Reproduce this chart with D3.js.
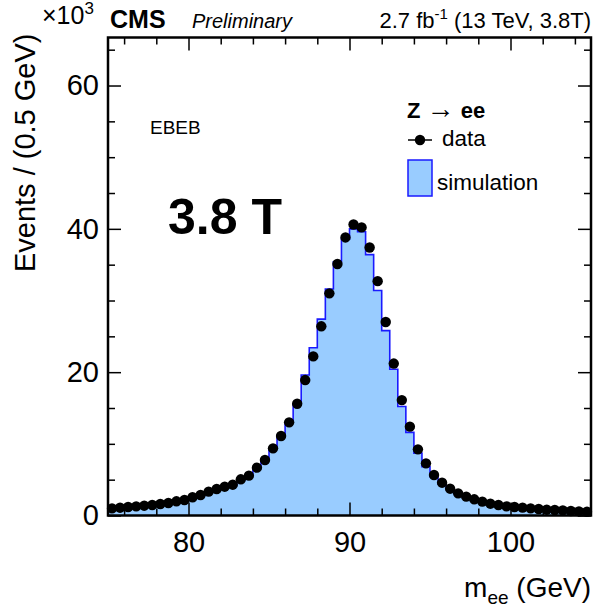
<!DOCTYPE html>
<html>
<head>
<meta charset="utf-8">
<script src="https://cdn.jsdelivr.net/npm/d3@7"></script>
<style>
  body { margin: 0; background: #fff; }
  text { font-family: "Liberation Sans", Arial, sans-serif; }
</style>
</head>
<body>
<div class="canvas"></div>
<script>
// margins and dimensions
const w = 594;
const h = 611;
const margin = { top: 37.5, right: 3, bottom: 95.5, left: 108 };

// bins: 0.5 GeV from 75 to 105
const binLow = d3.range(60).map((i) => 75 + i * 0.5);

// data points (x10^3 events)
const dataCounts = [
  1.00, 1.09, 1.19, 1.28, 1.37, 1.47, 1.60, 1.74, 1.98, 2.16,
  2.54, 2.86, 3.33, 3.70, 4.02, 4.30, 5.05, 5.56, 6.68, 7.75,
  9.37, 11.1, 13.0, 15.6, 18.9, 22.2, 26.4, 31.0, 35.1, 38.8,
  40.6, 40.2, 37.4, 32.7, 27.0, 21.2, 16.1, 12.4, 9.23, 7.28,
  5.65, 4.58, 3.74, 3.09, 2.63, 2.26, 1.93, 1.65, 1.47, 1.28,
  1.19, 1.10, 1.00, 0.90, 0.81, 0.77, 0.72, 0.63, 0.58, 0.53
];

// simulation histogram (x10^3 events)
const simCounts = [
  0.95, 1.04, 1.14, 1.23, 1.32, 1.42, 1.55, 1.70, 1.92, 2.10,
  2.48, 2.80, 3.27, 3.64, 3.98, 4.28, 5.00, 5.55, 6.65, 7.75,
  9.40, 11.2, 13.0, 15.5, 19.6, 23.4, 27.4, 31.6, 35.4, 38.6,
  40.0, 39.6, 36.4, 31.4, 25.8, 20.4, 15.2, 11.6, 8.70, 6.80,
  5.40, 4.40, 3.62, 3.00, 2.56, 2.20, 1.88, 1.60, 1.42, 1.24,
  1.14, 1.05, 0.96, 0.87, 0.78, 0.73, 0.68, 0.60, 0.55, 0.50
];

const xMajor = [80, 90, 100];
const xMinor = [76, 78, 82, 84, 86, 88, 92, 94, 96, 98, 102, 104];
const yMajor = [0, 20, 40, 60];
const yMinor = [5, 10, 15, 25, 30, 35, 45, 50, 55, 65];

const svg = d3.select(".canvas").append("svg").attr("width", w).attr("height", h);

const x = d3.scaleLinear().domain([75, 105]).range([margin.left, w - margin.right]);
const y = d3.scaleLinear().domain([0, 66.7]).range([h - margin.bottom, margin.top]);

// simulation (filled step histogram)
const simPts = binLow.map((b, i) => [b, simCounts[i]]);
simPts.push([105, simCounts[simCounts.length - 1]]);

svg.append("path")
  .datum(simPts)
  .attr("fill", "#99ccff")
  .attr("d", d3.area().curve(d3.curveStepAfter).x((d) => x(d[0])).y0(y(0)).y1((d) => y(d[1])));

svg.append("path")
  .datum(simPts)
  .attr("fill", "none")
  .attr("stroke", "#1a1aff")
  .attr("stroke-width", 1.6)
  .attr("d", d3.line().curve(d3.curveStepAfter).x((d) => x(d[0])).y((d) => y(d[1])));

// data points
const pts = svg.append("g");
dataCounts.forEach((v, i) => {
  pts.append("line")
    .attr("x1", x(binLow[i])).attr("x2", x(binLow[i] + 0.5))
    .attr("y1", y(v)).attr("y2", y(v))
    .attr("stroke", "#000").attr("stroke-width", 1.5);
  pts.append("circle")
    .attr("cx", x(binLow[i] + 0.25)).attr("cy", y(v))
    .attr("r", 5.2).attr("fill", "#000");
});

// axes: ticks on all four sides, pointing inward
function addAxis(axis, tx, ty, labels) {
  const g = svg.append("g").attr("transform", `translate(${tx},${ty})`).call(axis);
  g.select(".domain").remove();
  g.selectAll(".tick line").attr("stroke", "#000").attr("stroke-width", 1.5);
  g.selectAll("text").attr("font-size", 29).attr("fill", "#000");
  if (!labels) g.selectAll("text").remove();
  return g;
}
const x0 = y(0), yTop = y(66.7), xL = x(75), xR = x(105);
addAxis(d3.axisBottom(x).tickValues(xMajor).tickSizeInner(-13).tickSizeOuter(0).tickPadding(16).tickFormat(d3.format("d")), 0, x0, true);
addAxis(d3.axisBottom(x).tickValues(xMinor).tickSizeInner(-7).tickSizeOuter(0), 0, x0, false);
addAxis(d3.axisTop(x).tickValues(xMajor).tickSizeInner(-13).tickSizeOuter(0), 0, yTop, false);
addAxis(d3.axisTop(x).tickValues(xMinor).tickSizeInner(-7).tickSizeOuter(0), 0, yTop, false);
addAxis(d3.axisLeft(y).tickValues(yMajor).tickSizeInner(-13).tickSizeOuter(0).tickPadding(9).tickFormat(d3.format("d")), xL, 0, true);
addAxis(d3.axisLeft(y).tickValues(yMinor).tickSizeInner(-7).tickSizeOuter(0), xL, 0, false);
addAxis(d3.axisRight(y).tickValues(yMajor).tickSizeInner(-13).tickSizeOuter(0), xR, 0, false);
addAxis(d3.axisRight(y).tickValues(yMinor).tickSizeInner(-7).tickSizeOuter(0), xR, 0, false);

// frame
svg.append("rect")
  .attr("x", xL).attr("y", yTop).attr("width", xR - xL).attr("height", x0 - yTop)
  .attr("fill", "none").attr("stroke", "#000").attr("stroke-width", 2.5);

// axis titles
svg.append("text")
  .attr("transform", `translate(35,${yTop - 4}) rotate(-90)`)
  .attr("text-anchor", "end").attr("font-size", 29)
  .text("Events / (0.5 GeV)");

const xt = svg.append("text").attr("x", 591).attr("y", 597).attr("text-anchor", "end").attr("font-size", 28);
xt.append("tspan").text("m");
xt.append("tspan").attr("font-size", 19).attr("dy", 7).text("ee");
xt.append("tspan").attr("dy", -7).text(" (GeV)");

// exponent
const ex = svg.append("text").attr("x", 42).attr("y", 24).attr("font-size", 25);
ex.append("tspan").text("×10");
ex.append("tspan").attr("font-size", 17).attr("dy", -10).text("3");

// header
svg.append("text").attr("x", 110).attr("y", 28).attr("font-size", 25).attr("font-weight", "bold").text("CMS");
svg.append("text").attr("x", 192).attr("y", 28).attr("font-size", 20).attr("font-style", "italic").text("Preliminary");
const lumi = svg.append("text").attr("x", 591).attr("y", 28).attr("text-anchor", "end").attr("font-size", 22);
lumi.append("tspan").text("2.7 fb");
lumi.append("tspan").attr("font-size", 15).attr("dy", -9).text("-1");
lumi.append("tspan").attr("dy", 9).text(" (13 TeV, 3.8T)");

// labels in the plot
svg.append("text").attr("x", 150).attr("y", 134).attr("font-size", 19).text("EBEB");
svg.append("text").attr("x", 168).attr("y", 234).attr("font-size", 50).attr("font-weight", "bold").text("3.8 T");

// legend
const lg = svg.append("g");
const lt = lg.append("text").attr("x", 407).attr("y", 118).attr("font-size", 22);
lt.append("tspan").attr("font-weight", "bold").text("Z ");
lt.append("tspan").attr("font-size", 28).text("→");
lt.append("tspan").attr("font-weight", "bold").text(" ee");
lg.append("line").attr("x1", 408).attr("x2", 432).attr("y1", 140).attr("y2", 140).attr("stroke", "#000").attr("stroke-width", 1.5);
lg.append("circle").attr("cx", 420).attr("cy", 140).attr("r", 5.2).attr("fill", "#000");
lg.append("text").attr("x", 442).attr("y", 146).attr("font-size", 22.5).text("data");
lg.append("rect").attr("x", 408).attr("y", 160).attr("width", 24).attr("height", 36)
  .attr("fill", "#99ccff").attr("stroke", "#1a1aff").attr("stroke-width", 1.5);
lg.append("text").attr("x", 437).attr("y", 190).attr("font-size", 22.5).text("simulation");
</script>
</body>
</html>
